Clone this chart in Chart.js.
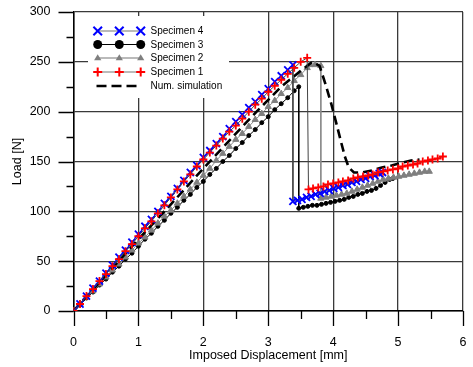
<!DOCTYPE html>
<html><head><meta charset="utf-8">
<script src="https://cdn.jsdelivr.net/npm/chart.js@4/dist/chart.umd.min.js"></script>
<style>html,body{margin:0;padding:0;background:#fff}canvas{display:block}</style>
</head><body>
<canvas id="c" width="473" height="367"></canvas>
<script>
// ---- data ----
const seriesNames = ['Specimen 4','Specimen 3','Specimen 2','Specimen 1','Num. simulation'];
const xTickLabels = ['0','1','2','3','4','5','6'];
const yTickLabels = ['0','50','100','150','200','250','300'];

const spec4X = [0,0.1,0.2,0.3,0.4,0.5,0.6,0.7,0.8,0.9,1.0,1.1,1.2,1.3,1.4,1.5,1.6,1.7,1.8,1.9,2.0,2.1,2.2,2.3,2.4,2.5,2.6,2.7,2.8,2.9,3.0,3.1,3.2,3.3,3.38,
  3.38,3.45,3.52,3.59,3.66,3.73,3.80,3.87,3.94,4.01,4.08,4.15,4.22,4.29,4.36,4.43,4.50,4.57,4.64,4.71,4.76];
const spec4Y = [0,7,15,23,30,38,46,54,61,69,77,85,92,100,108,115,123,131,139,146,154,161,168,175,183,190,197,204,210,217,223,230,236,242,247,
  110,111,112,114,115,117,118,120,121,123,124,126,127,129,130,132,133,135,136,138,139];

const spec3X = [0,0.1,0.2,0.3,0.4,0.5,0.6,0.7,0.8,0.9,1.0,1.1,1.2,1.3,1.4,1.5,1.6,1.7,1.8,1.9,2.0,2.1,2.2,2.3,2.4,2.5,2.6,2.7,2.8,2.9,3.0,3.1,3.2,3.3,3.4,3.47,
  3.47,3.54,3.61,3.68,3.75,3.82,3.89,3.96,4.03,4.10,4.17,4.24,4.31,4.38,4.45,4.52,4.59,4.66,4.73,4.80,4.87,4.92];
const spec3Y = [0,6,13,19,26,32,39,45,52,58,65,72,78,85,91,98,104,111,117,124,130,137,143,150,156,163,169,176,182,189,195,202,208,214,221,225,
  103,104,105,106,106,107,108,109,110,111,112,114,115,117,118,120,121,123,126,129,132,133];

const spec2X = [0,0.1,0.2,0.3,0.4,0.5,0.6,0.7,0.8,0.9,1.0,1.1,1.2,1.3,1.4,1.5,1.6,1.7,1.8,1.9,2.0,2.1,2.2,2.3,2.4,2.5,2.6,2.7,2.8,2.9,3.0,3.1,3.2,3.3,3.4,3.5,3.6,3.64,3.72,3.81,
  3.81,3.89,3.97,4.05,4.13,4.21,4.29,4.37,4.45,4.53,4.61,4.69,4.77,4.85,4.93,5.01,5.09,5.17,5.25,5.33,5.41,5.48];
const spec2Y = [0,7,14,20,27,34,41,47,54,61,68,74,81,88,95,101,108,115,122,129,136,143,151,158,165,172,178,185,192,198,205,211,218,224,231,237,244,247,247,246,
  113,114,115,116,117,118,120,122,124,126,128,130,132,133,134,135,136,137,138,139,140,140];

const spec1X = [0,0.1,0.2,0.3,0.4,0.5,0.6,0.7,0.8,0.9,1.0,1.1,1.2,1.3,1.4,1.5,1.6,1.7,1.8,1.9,2.0,2.1,2.2,2.3,2.4,2.5,2.6,2.7,2.8,2.9,3.0,3.1,3.2,3.3,3.4,3.5,3.6,
  3.62,3.69,3.77,3.85,3.92,4.00,4.08,4.15,4.23,4.31,4.38,4.46,4.54,4.61,4.69,4.77,4.84,4.92,5.00,5.07,5.15,5.23,5.30,5.38,5.46,5.53,5.61,5.69];
const spec1Y = [0,7,15,22,30,37,45,52,60,67,75,83,90,98,106,114,122,130,137,145,152,159,166,173,180,186,193,200,207,213,220,226,232,238,244,250,254,
  122,123,124,125,127,128,129,130,131,133,134,135,136,137,139,140,141,142,143,145,146,147,148,150,151,152,153,155];

const simX = [0,0.5,1.0,1.5,2.0,2.5,2.82,3.2,3.5,3.68,3.79,3.88,3.97,4.05,4.12,4.18,4.24,4.32,4.45,4.6,4.75,4.9,5.07,5.2,5.33];
const simY = [0,36,72,107,143,178,200,225,241,250,246,228,208,188,170,155,144,139,139,141,144,146,149,151,152];

// ---- helpers ----
const toPts = (xs, ys) => xs.map((x, i) => ({x: x, y: ys[i]}));
const FONT = 'Arial, "Liberation Sans", Helvetica, sans-serif';

const styles = {
  s4: {color:'#0000ff', line:'#444444', pointStyle:'crossRot', r:5, w:1.8},
  s3: {color:'#000000', line:'#000000', pointStyle:'circle', r:2, w:1},
  s2: {color:'#7f7f7f', line:'#8a8a8a', pointStyle:'triangle', r:3.6, w:1},
  s1: {color:'#ff0000', line:'#444444', pointStyle:'cross', r:4, w:1.8}
};

function ds(label, pts, st) {
  return {label, data: pts, showLine: true, borderColor: st.line, borderWidth: 1,
    pointStyle: st.pointStyle, pointRadius: st.r, pointBorderColor: st.color,
    pointBackgroundColor: st.color, pointBorderWidth: st.w, fill: false, tension: 0};
}

const datasets = [
  ds(seriesNames[3], toPts(spec1X, spec1Y), styles.s1),
  ds(seriesNames[0], toPts(spec4X, spec4Y), styles.s4),
  {label: seriesNames[4], data: toPts(simX, simY), showLine: true, borderColor:'#000', borderWidth: 2.6,
   borderDash:[9,5], pointRadius: 0, fill:false, tension:0},
  ds(seriesNames[2], toPts(spec2X, spec2Y), styles.s2),
  ds(seriesNames[1], toPts(spec3X, spec3Y), styles.s3)
];

function marker(ctx, style, x, y, r, color, w) {
  ctx.save();
  ctx.strokeStyle = color; ctx.fillStyle = color; ctx.lineWidth = w;
  ctx.beginPath();
  if (style === 'cross') {
    ctx.moveTo(x - r, y); ctx.lineTo(x + r, y); ctx.moveTo(x, y - r); ctx.lineTo(x, y + r); ctx.stroke();
  } else if (style === 'crossRot') {
    ctx.moveTo(x - r, y - r); ctx.lineTo(x + r, y + r); ctx.moveTo(x + r, y - r); ctx.lineTo(x - r, y + r); ctx.stroke();
  } else if (style === 'circle') {
    ctx.arc(x, y, r, 0, Math.PI * 2); ctx.fill();
  } else if (style === 'triangle') {
    ctx.moveTo(x, y - r); ctx.lineTo(x + r * 0.95, y + r * 0.6); ctx.lineTo(x - r * 0.95, y + r * 0.6); ctx.closePath(); ctx.fill();
  }
  ctx.restore();
}

const tickMarks = {
  id: 'tickMarks',
  afterDraw(chart) {
    const {ctx, scales: {x, y}} = chart;
    ctx.save();
    ctx.strokeStyle = '#000'; ctx.lineWidth = 1.3;
    ctx.beginPath();
    for (let v = 0; v <= 300; v += 25) {
      const py = Math.round(y.getPixelForValue(v)) + 0.5;
      const len = (v % 50 === 0) ? 15 : 7;
      ctx.moveTo(x.left - len, py); ctx.lineTo(x.left, py);
    }
    for (let k = 0; k <= 12; k++) {
      const v = k * 0.5;
      const px = Math.round(x.getPixelForValue(v)) + 0.5;
      const len = (k % 2 === 0) ? 15 : 8;
      ctx.moveTo(px, y.bottom); ctx.lineTo(px, y.bottom + len);
    }
    ctx.stroke();
    ctx.restore();
  }
};

const boxLegend = {
  id: 'boxLegend',
  afterDatasetsDraw(chart) {
    const ctx = chart.ctx;
    ctx.save();
    ctx.fillStyle = '#fff';
    ctx.fillRect(88, 16, 141, 82);
    const rows = [
      {name: seriesNames[0], st: styles.s4, y: 31, r: 4.3, w: 2},
      {name: seriesNames[1], st: styles.s3, y: 44.5, r: 4.5, w: 1},
      {name: seriesNames[2], st: styles.s2, y: 58, r: 3.8, w: 1},
      {name: seriesNames[3], st: styles.s1, y: 72, r: 4.5, w: 2}
    ];
    const mx = [97.7, 119.3, 140.7];
    rows.forEach(rw => {
      ctx.strokeStyle = rw.st.line === '#000000' ? '#000' : '#777';
      ctx.lineWidth = 1.2;
      ctx.beginPath(); ctx.moveTo(mx[0], rw.y); ctx.lineTo(mx[2], rw.y); ctx.stroke();
      mx.forEach(px => marker(ctx, rw.st.pointStyle, px, rw.y, rw.r, rw.st.color, rw.w));
    });
    ctx.strokeStyle = '#000'; ctx.lineWidth = 2.6; ctx.setLineDash([10, 5]);
    ctx.beginPath(); ctx.moveTo(96.5, 86); ctx.lineTo(137, 86); ctx.stroke();
    ctx.setLineDash([]);
    ctx.fillStyle = '#000';
    ctx.font = '10px ' + FONT;
    ctx.textBaseline = 'middle'; ctx.textAlign = 'left';
    rows.forEach(rw => ctx.fillText(rw.name, 150.5, rw.y + 0.5));
    ctx.fillText(seriesNames[4], 150.5, 86.5);
    ctx.restore();
  }
};

const gridColor = '#3a3a3a';
new Chart(document.getElementById('c'), {
  type: 'scatter',
  data: {datasets},
  options: {
    responsive: false, animation: false,
    layout: {padding: {left: 0, right: 10, top: 12, bottom: 0}, autoPadding: false},
    plugins: {legend: {display: false}, tooltip: {enabled: false}},
    scales: {
      x: {
        type: 'linear', min: 0, max: 6,
        afterFit: s => { s.height = 56; s.paddingLeft = 0; s.paddingRight = 0; },
        afterBuildTicks: s => { s.ticks = xTickLabels.map(t => ({value: Number(t)})); },
        ticks: {color: '#000', font: {family: FONT, size: 12.5}, padding: 24, maxRotation: 0,
          callback: (v, i) => xTickLabels[i]},
        grid: {drawTicks: false, color: gridColor, lineWidth: 1.3},
        border: {color: '#000', width: 1.5},
        title: {display: true, text: 'Imposed Displacement [mm]', color: '#000',
          font: {family: FONT, size: 12.5}, padding: {top: 0, bottom: 4}}
      },
      y: {
        type: 'linear', min: 0, max: 300,
        afterFit: s => { s.width = 73.5; s.paddingTop = 0; s.paddingBottom = 0; },
        afterBuildTicks: s => { s.ticks = yTickLabels.map(t => ({value: Number(t)})); },
        ticks: {color: '#000', font: {family: FONT, size: 12.5}, padding: 23,
          callback: (v, i) => yTickLabels[i]},
        grid: {drawTicks: false, color: gridColor, lineWidth: 1.3},
        border: {color: '#000', width: 1.5},
        title: {display: true, text: 'Load [N]', color: '#000',
          font: {family: FONT, size: 12.5}, padding: {top: 10, bottom: 0}}
      }
    }
  },
  plugins: [tickMarks, boxLegend]
});
</script>
</body></html>
